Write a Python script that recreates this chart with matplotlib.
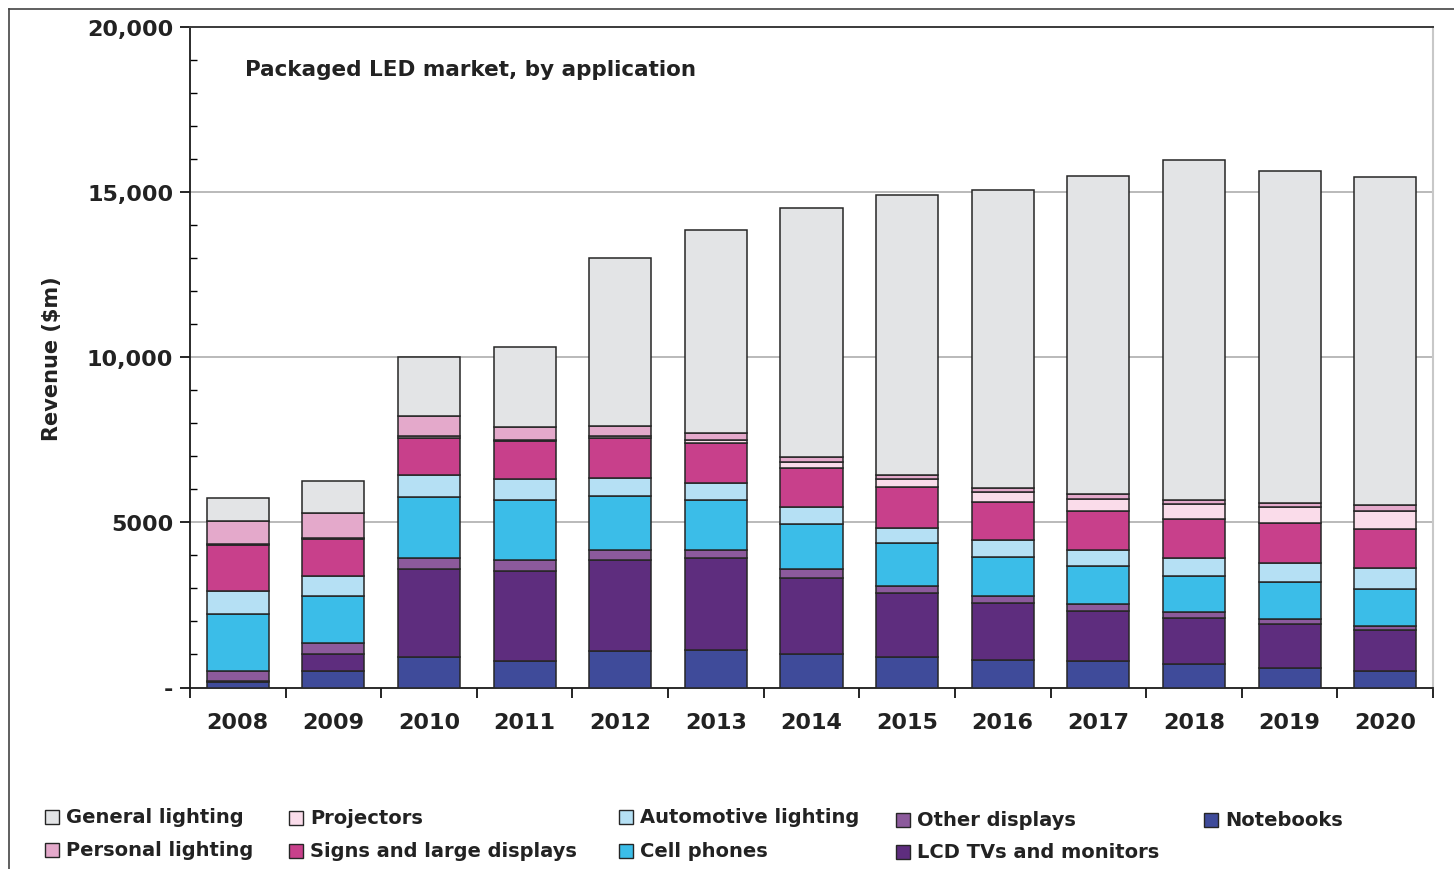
import matplotlib.pyplot as plt
from matplotlib.patches import Rectangle
from matplotlib.lines import Line2D
from matplotlib.ticker import MultipleLocator, FixedLocator

plt.rcParams['font.family'] = ['DejaVu Sans']

# data, $m
years = ['2008', '2009', '2010', '2011', '2012', '2013', '2014',
         '2015', '2016', '2017', '2018', '2019', '2020']
notebooks = [157, 498, 921, 791, 1094, 1142, 1003, 931, 831, 801, 710, 589, 498]
lcd_tvs = [48, 514, 2659, 2738, 2767, 2770, 2314, 1924, 1722, 1510, 1390, 1338, 1248]
other_displays = [293, 332, 332, 332, 302, 251, 263, 221, 220, 212, 172, 142, 103]
cell_phones = [1722, 1430, 1853, 1825, 1632, 1511, 1381, 1299, 1179, 1148, 1097, 1127, 1127]
automotive = [717, 595, 676, 622, 555, 504, 501, 465, 504, 504, 553, 586, 644]
signs = [1389, 1138, 1127, 1160, 1197, 1230, 1179, 1217, 1169, 1166, 1169, 1188, 1169]
projectors = [10, 10, 60, 30, 81, 100, 193, 263, 302, 375, 453, 504, 552]
personal = [713, 755, 583, 380, 281, 202, 160, 121, 109, 139, 121, 121, 173]
general = [686, 977, 1804, 2438, 5097, 6144, 7523, 8468, 9024, 9628, 10302, 10039, 9939]

# bottom -> top
series = [
    ('Notebooks', notebooks, '#3f4b9a'),
    ('LCD TVs and monitors', lcd_tvs, '#5e2d7e'),
    ('Other displays', other_displays, '#8c5a9c'),
    ('Cell phones', cell_phones, '#3bbde8'),
    ('Automotive lighting', automotive, '#b5e0f4'),
    ('Signs and large displays', signs, '#c8408b'),
    ('Projectors', projectors, '#fadcea'),
    ('Personal lighting', personal, '#e4a9cb'),
    ('General lighting', general, '#e3e4e6'),
]

W, H = 1454, 870
fig = plt.figure(figsize=(W / 100, H / 100), dpi=100)
ax = fig.add_axes([190 / W, 1 - 688.5 / H, (1433 - 190) / W, (688.5 - 28) / H])

x = range(len(years))
bottom = [0] * len(years)
for name, vals, col in series:
    ax.bar(x, vals, width=0.65, bottom=bottom, color=col,
           edgecolor='#262626', linewidth=1.1, zorder=3)
    bottom = [b + v for b, v in zip(bottom, vals)]

ax.set_xlim(-0.5, len(years) - 0.5)
ax.set_ylim(0, 20000)

# grid
for g in [5000, 10000, 15000]:
    ax.axhline(g, color='#b4b4b4', linewidth=1.3, zorder=1)

ax.spines['top'].set_color('#3a3a3a')
ax.spines['top'].set_linewidth(1.4)
ax.spines['right'].set_color('#c8c8c8')
ax.spines['right'].set_linewidth(1.5)
ax.spines['left'].set_color('#1a1a1a')
ax.spines['bottom'].set_color('#1a1a1a')
ax.spines['left'].set_linewidth(1.3)
ax.spines['bottom'].set_linewidth(1.3)

# y ticks
ax.set_yticks([0, 5000, 10000, 15000, 20000])
ax.set_yticklabels(['-', '5000', '10,000', '15,000', '20,000'],
                   fontsize=16, fontweight='bold', color='#222222')
ax.yaxis.set_minor_locator(MultipleLocator(1000))
ax.tick_params(axis='y', which='major', direction='out', length=7, width=1.2, pad=5)
ax.tick_params(axis='y', which='minor', direction='in', length=5, width=1.0)

# x ticks: labels at centres, marks at boundaries
ax.set_xticks(list(x))
ax.set_xticklabels(years, fontsize=16, fontweight='bold', color='#222222')
ax.xaxis.set_minor_locator(FixedLocator([i - 0.5 for i in range(len(years) + 1)]))
ax.tick_params(axis='x', which='major', length=0, pad=18)
ax.tick_params(axis='x', which='minor', direction='out', length=7, width=1.2)

ax.set_ylabel('Revenue ($m)', fontsize=15, fontweight='bold', color='#222222', labelpad=18)

ax.text(245 / W, 1 - 70 / H, 'Packaged LED market, by application', transform=fig.transFigure,
        fontsize=15.5, fontweight='bold', color='#222222', va='center', ha='left')

# frame around figure (left and top)
fig.add_artist(Line2D([9 / W, 9 / W], [0, 1 - 10 / H], color='#444444', linewidth=1.2))
fig.add_artist(Line2D([9 / W, 1], [1 - 10 / H, 1 - 10 / H], color='#444444', linewidth=1.2))

# legend laid out as in the original
lookup = {name: col for name, vals, col in series}
legend_items = [
    ('General lighting', 45, 818), ('Personal lighting', 45, 851),
    ('Projectors', 289, 819), ('Signs and large displays', 289, 852),
    ('Automotive lighting', 619, 818), ('Cell phones', 619, 852),
    ('Other displays', 896, 821), ('LCD TVs and monitors', 896, 853),
    ('Notebooks', 1204, 821),
]
for name, px, py in legend_items:
    fig.add_artist(Rectangle((px / W, 1 - (py + 7) / H), 14 / W, 14 / H,
                             facecolor=lookup[name], edgecolor='#262626',
                             linewidth=1.0, transform=fig.transFigure))
    fig.text((px + 21) / W, 1 - py / H, name, fontsize=14, fontweight='bold',
             color='#222222', va='center', ha='left')

fig.savefig('out.png', dpi=100)
